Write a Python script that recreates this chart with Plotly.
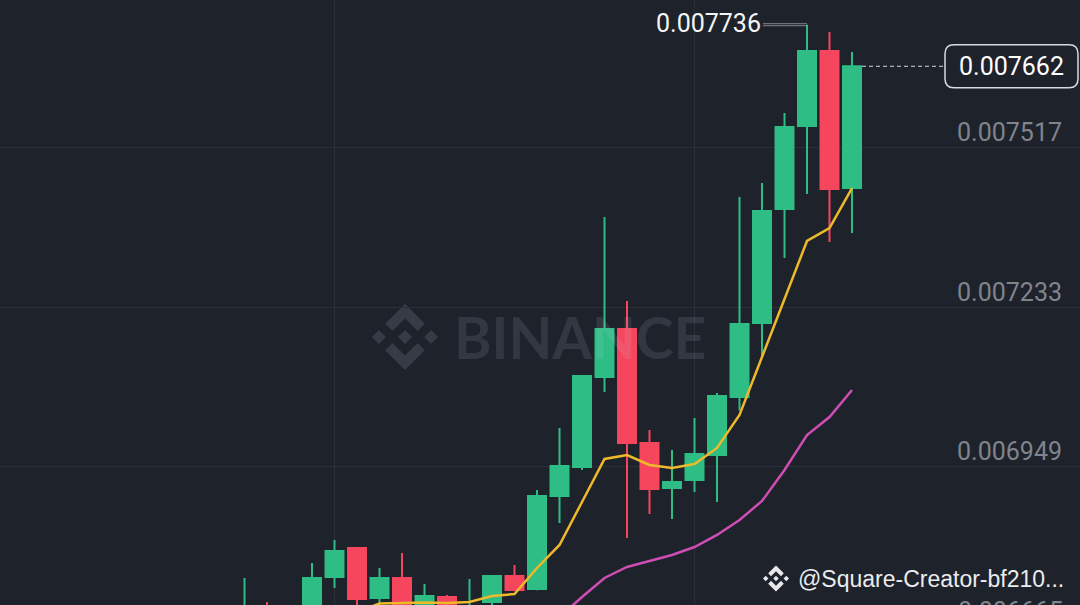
import plotly.graph_objects as go

W, H = 1080, 605
BG = "#1e222b"
GRID = "#2b2f39"
UP = "#2ebd85"
DOWN = "#f6465d"

# ---- data ----
idx = list(range(28))
opens = [0.006672, 0.006695, 0.006680, 0.006690, 0.0067526, 0.0068042, 0.0067152, 0.0067508,
         0.006700, 0.006717, 0.006685, 0.006708, 0.0067544, 0.0067312, 0.0068968, 0.0069484,
         0.0071087, 0.0071942, 0.0069912, 0.006911, 0.0069253, 0.0069698, 0.0070731, 0.0072049,
         0.0074078, 0.0075556, 0.0076892, 0.0074452]
highs = [0.006751, 0.006708, 0.006695, 0.0067775, 0.0068185, 0.0068045, 0.0067686, 0.0067953,
         0.0067401, 0.0067205, 0.006749, 0.006755, 0.006774, 0.0069075, 0.0070179, 0.007112,
         0.0073936, 0.007244, 0.0070144, 0.0069787, 0.0070357, 0.0070802, 0.0074292, 0.0074541,
         0.0075788, 0.007736, 0.007723, 0.0076874]
lows = [0.006660, 0.006670, 0.006668, 0.006685, 0.006733, 0.006698, 0.006700, 0.006690,
        0.006695, 0.006690, 0.006680, 0.006700, 0.006727, 0.006729, 0.0068487, 0.006943,
        0.007082, 0.006822, 0.0068648, 0.0068559, 0.0069039, 0.0068861, 0.007049, 0.0071425,
        0.0073206, 0.0074346, 0.0073491, 0.0073651]
closes = [0.006694, 0.006680, 0.006690, 0.0067508, 0.0067989, 0.0067134, 0.0067508, 0.006698,
          0.0067187, 0.006698, 0.006698, 0.0067544, 0.0067294, 0.0068968, 0.0069502, 0.0071105,
          0.0071942, 0.0069912, 0.0069092, 0.0069217, 0.0069716, 0.0070749, 0.0072031, 0.0074043,
          0.0075538, 0.0076892, 0.0074435, 0.007662]
ma7 = [None] * 5 + [0.006690, 0.0067054, 0.0067063, 0.006707, 0.0067063, 0.006708, 0.0067187,
                    0.0067223, 0.0067686, 0.0068096, 0.0068861, 0.0069627, 0.0069698, 0.006952,
                    0.0069467, 0.0069538, 0.0069823, 0.007041, 0.0071443, 0.0072458, 0.0073509,
                    0.007374, 0.0074452]
ma25 = [None] * 14 + [0.0066813, 0.006717, 0.0067508, 0.0067704, 0.0067811, 0.0067918, 0.006806,
                      0.0068274, 0.0068541, 0.0068879, 0.0069431, 0.0070054, 0.0070375, 0.0070856]
y_ticks = [0.006665, 0.006949, 0.007233, 0.007517]
y_ticktext = ["0.006665", "0.006949", "0.007233", "0.007517"]
x_grid = [4, 20]
high_mark_idx = 25
high_mark = 0.007736
last_price = closes[-1]
last_text = "0.007662"
high_text = "0.007736"
watermark = "BINANCE"
creator = "@Square-Creator-bf210..."

X_RANGE = [-10.867, 37.133]
Y_RANGE = [0.0067027, 0.00778]

fig = go.Figure()
fig.add_trace(go.Candlestick(
    x=idx, open=opens, high=highs, low=lows, close=closes,
    increasing=dict(line=dict(color=UP, width=2), fillcolor=UP),
    decreasing=dict(line=dict(color=DOWN, width=2), fillcolor=DOWN),
    whiskerwidth=0, hoverinfo="skip", showlegend=False,
))
fig.add_trace(go.Scatter(x=idx, y=ma25, mode="lines", line=dict(color="#cf4db4", width=2.5),
                         hoverinfo="skip", showlegend=False))
fig.add_trace(go.Scatter(x=idx, y=ma7, mode="lines", line=dict(color="#eeb92b", width=2.5),
                         hoverinfo="skip", showlegend=False))


def px2paper(px, py):
    return px / W, 1 - py / H


def logo_path(cx, cy, s):
    polys = [
        [(0, -1), (0.6, -0.4), (0.38, -0.18), (0, -0.56), (-0.38, -0.18), (-0.6, -0.4)],
        [(0, 1), (0.6, 0.4), (0.38, 0.18), (0, 0.56), (-0.38, 0.18), (-0.6, 0.4)],
        [(-0.21, 0), (0, -0.21), (0.21, 0), (0, 0.21)],
        [(-1.0, 0), (-0.79, -0.21), (-0.58, 0), (-0.79, 0.21)],
        [(1.0, 0), (0.79, -0.21), (0.58, 0), (0.79, 0.21)],
    ]
    parts = []
    for poly in polys:
        pts = [px2paper(cx + a * s, cy + b * s) for a, b in poly]
        parts.append("M " + " L ".join(f"{x:.5f},{y:.5f}" for x, y in pts) + " Z")
    return " ".join(parts)


shapes = []
shapes.append(dict(type="path", xref="paper", yref="paper", path=logo_path(405, 337, 33),
                   fillcolor="#373b46", line=dict(width=0), layer="below"))
shapes.append(dict(type="path", xref="paper", yref="paper", path=logo_path(776, 578.5, 13),
                   fillcolor="#e6e8ea", line=dict(width=0), layer="above"))
# high marker: thin double line
for dy in (-1, 1):
    shapes.append(dict(type="line", xref="x", xsizemode="pixel", xanchor=high_mark_idx, x0=-44, x1=0,
                       yref="y", ysizemode="pixel", yanchor=high_mark, y0=dy, y1=dy,
                       line=dict(color="#9a9ea5", width=0.8)))
shapes.append(dict(type="line", xref="paper", x0=862 / W, x1=945 / W, yref="y",
                   y0=last_price, y1=last_price, line=dict(color="#d5d8dc", width=1, dash="4px,3px")))
x0, x1, y0, y1, r = -135, -2, -21.5, 21.5, 9
box = (f"M {x0 + r},{y0} L {x1 - r},{y0} Q {x1},{y0} {x1},{y0 + r} L {x1},{y1 - r} "
       f"Q {x1},{y1} {x1 - r},{y1} L {x0 + r},{y1} Q {x0},{y1} {x0},{y1 - r} "
       f"L {x0},{y0 + r} Q {x0},{y0} {x0 + r},{y0} Z")
shapes.append(dict(type="path", xref="paper", xsizemode="pixel", xanchor=1, yref="y",
                   ysizemode="pixel", yanchor=last_price, path=box, fillcolor=BG,
                   line=dict(color="#d8dbdf", width=1.5), layer="above"))

NUMFONT = "Roboto, Inter, sans-serif"
TICKSIZE = 25
annotations = [
    dict(xref="paper", yref="paper", x=579.5 / W, y=1 - 337 / H, text=watermark, showarrow=False,
         font=dict(family="Lato, Liberation Sans, sans-serif", size=57, color="rgba(200,210,235,0.12)",
                   weight="bold"), xanchor="center", yanchor="middle"),
    dict(xref="paper", yref="paper", x=796 / W, y=1 - 578.5 / H, text=creator, showarrow=False,
         font=dict(family="Liberation Sans, Arial, sans-serif", size=23, color="#eaecef"),
         xanchor="left", yanchor="middle"),
    dict(xref="x", yref="y", x=high_mark_idx, y=high_mark, xshift=-44, yshift=1, text=high_text,
         showarrow=False, font=dict(family=NUMFONT, size=TICKSIZE, color="#f5f5f5"),
         xanchor="right", yanchor="middle"),
    dict(xref="paper", yref="y", x=(W - 68.5) / W, y=last_price, text=last_text, showarrow=False,
         font=dict(family=NUMFONT, size=TICKSIZE, color="#ffffff"), xanchor="center", yanchor="middle"),
    dict(xref="paper", yref="paper", x=(W - 15) / W,
         y=(y_ticks[0] - Y_RANGE[0]) / (Y_RANGE[1] - Y_RANGE[0]), yshift=15, text=y_ticktext[0],
         showarrow=False, font=dict(family=NUMFONT, size=TICKSIZE, color="#80848c"),
         xanchor="right", yanchor="middle"),
]

fig.update_layout(
    width=W, height=H, margin=dict(l=0, r=0, t=0, b=0),
    paper_bgcolor=BG, plot_bgcolor=BG, showlegend=False, boxgap=0, boxgroupgap=0.2,
    shapes=shapes, annotations=annotations,
    xaxis=dict(range=X_RANGE, tickvals=x_grid, showticklabels=False, showgrid=True,
               gridcolor=GRID, gridwidth=1, zeroline=False, showline=False, ticks="",
               rangeslider=dict(visible=False), fixedrange=True),
    yaxis=dict(range=Y_RANGE, side="right", tickvals=y_ticks, ticktext=y_ticktext,
               ticklabelposition="inside", ticklabelshift=-15, ticklabelstandoff=15,
               tickfont=dict(family=NUMFONT, size=TICKSIZE, color="#80848c"),
               showgrid=True, gridcolor=GRID, gridwidth=1, zeroline=False, showline=False,
               ticks="", fixedrange=True),
)

fig.write_html("out.html", config={"displayModeBar": False},
               post_script="document.body.style.margin='0';document.body.style.overflow='hidden';"
                           "document.body.style.background='" + BG + "';")
